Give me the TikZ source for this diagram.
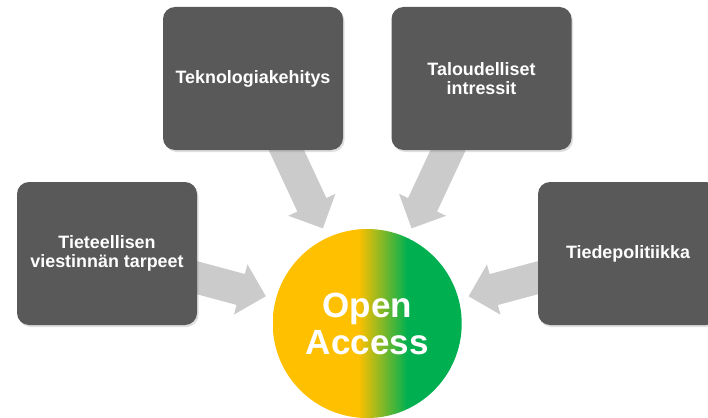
\documentclass[tikz,border=0pt]{standalone}
\usepackage{fontspec}
\setmainfont{Liberation Sans}
\usetikzlibrary{calc,backgrounds,shadows}
\definecolor{boxgray}{HTML}{595959}
\definecolor{arrowgray}{HTML}{CBCBCB}
\definecolor{oayel}{HTML}{FFC000}
\definecolor{oagreen}{HTML}{00B050}
\tikzset{
  box/.style={draw=none, fill=boxgray, rounded corners=12pt,
    minimum width=180pt, minimum height=143pt, text=white, inner sep=0pt,
    font=\bfseries\fontsize{17.9}{19}\selectfont, align=center,
    drop shadow={opacity=0.25, shadow xshift=1.5pt, shadow yshift=-2pt}},
  oacircle/.style={circle, minimum size=189pt, inner sep=0pt, text=white,
    font=\bfseries\fontsize{35}{37}\selectfont, align=center},
  blockarrow/.style={fill=arrowgray, draw=none},
}
\newcommand{\oablockarrow}[2]{%
  \coordinate (#2h) at ($(#2)!26pt!(#1.center)$);
  \fill[blockarrow] ($(#1.center)!16pt!90:(#2)$) -- ($(#2h)!16pt!90:(#2)$)
    -- ($(#2h)!26pt!90:(#2)$) -- (#2) -- ($(#2h)!26pt!-90:(#2)$)
    -- ($(#2h)!16pt!-90:(#2)$) -- ($(#1.center)!16pt!-90:(#2)$) -- cycle;}
\begin{document}
\begin{tikzpicture}[x=1pt,y=-1pt]
\useasboundingbox (0,0) rectangle (708,417);
\node[box] (b1) at (107,253.5) {Tieteellisen\\viestinnän tarpeet};
\node[box] (b2) at (253,78.5) {Teknologiakehitys};
\node[box] (b3) at (481.5,78.5) {Taloudelliset\\intressit};
\node[box] (b4) at (628,253.5) {Tiedepolitiikka};
\node[oacircle, path picture={
  \fill[oayel] (path picture bounding box.south west) rectangle ([xshift=-8.5pt]path picture bounding box.north);
  \shade[left color=oayel, right color=oagreen] ([xshift=-9pt]path picture bounding box.south) rectangle ([xshift=40pt]path picture bounding box.north);
  \fill[oagreen] ([xshift=39.5pt]path picture bounding box.south) rectangle (path picture bounding box.north east);
}] (oa) at (367.2,323.5) {Open\\Access};
\coordinate (t1) at ($(oa.center)!105pt!(b1.center)$);
\coordinate (t2) at ($(oa.center)!105pt!(b2.center)$);
\coordinate (t3) at ($(oa.center)!105pt!(b3.center)$);
\coordinate (t4) at ($(oa.center)!105pt!(b4.center)$);
\begin{scope}[on background layer]
\oablockarrow{b1}{t1}
\oablockarrow{b2}{t2}
\oablockarrow{b3}{t3}
\oablockarrow{b4}{t4}
\end{scope}
\end{tikzpicture}
\end{document}
